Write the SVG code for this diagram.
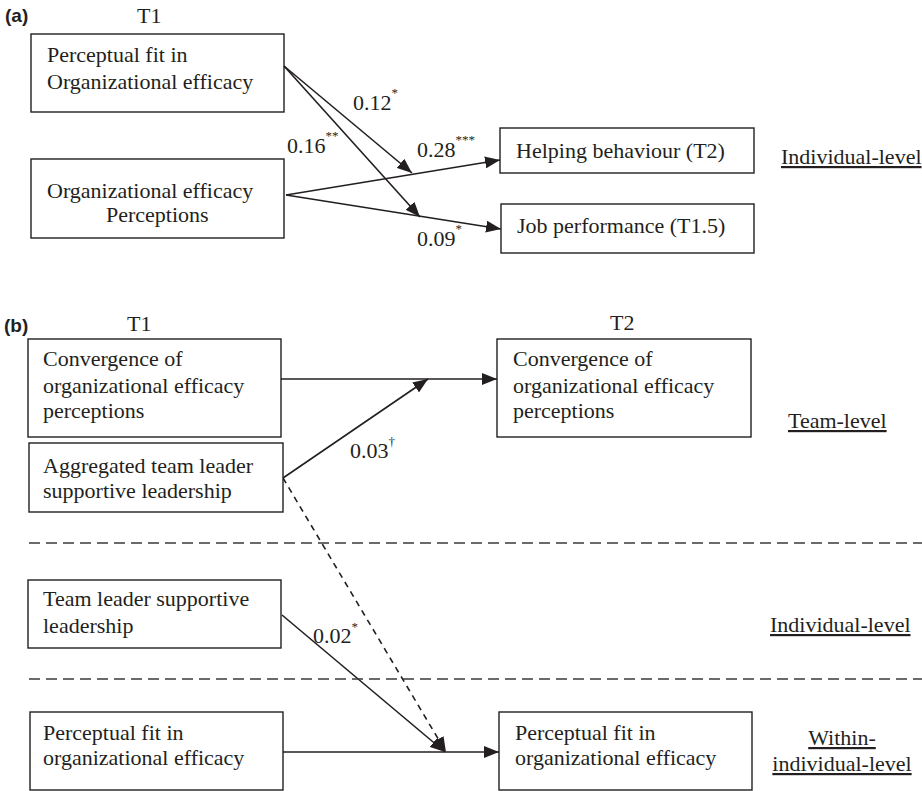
<svg xmlns="http://www.w3.org/2000/svg" width="922" height="791" viewBox="0 0 922 791">
<defs>
<style>
text{font-family:"Liberation Serif","Times New Roman",serif;font-size:22px;fill:#231f20}
.panel{font-family:"Liberation Sans",Arial,sans-serif;font-weight:bold;font-size:19px}
.box{fill:#fff;stroke:#231f20;stroke-width:1.4}
.c{fill:none;stroke:#231f20;stroke-width:1.6}
.dash{fill:none;stroke:#231f20;stroke-width:1.6;stroke-dasharray:6 5}
.sep{fill:none;stroke:#3a3a3a;stroke-width:1.4;stroke-dasharray:11 6}
.sup{font-size:13px}
.u{text-decoration:underline}
</style>
<marker id="ah" markerUnits="userSpaceOnUse" markerWidth="16" markerHeight="12" viewBox="0 0 16 12" refX="15" refY="6" orient="auto">
<path d="M0,0 L15,6 L0,12 Z" fill="#231f20"/>
</marker>
</defs>
<rect width="922" height="791" fill="#fff"/>

<!-- panel a -->
<text class="panel" x="5" y="22">(a)</text>
<text x="137" y="23">T1</text>

<g id="a_fit">
<rect class="box" x="31" y="34" width="253" height="78"/>
<text x="47" y="62">Perceptual fit in</text>
<text x="47" y="89">Organizational efficacy</text>
</g>
<g id="a_oep">
<rect class="box" x="31" y="159" width="253" height="79"/>
<text x="47" y="198">Organizational efficacy</text>
<text x="106" y="222">Perceptions</text>
</g>
<g id="a_help">
<rect class="box" x="500" y="128" width="254" height="45"/>
<text x="516" y="158">Helping behaviour (T2)</text>
</g>
<g id="a_job">
<rect class="box" x="501" y="204" width="253" height="49"/>
<text x="517" y="233">Job performance (T1.5)</text>
</g>
<text class="u" x="781" y="164">Individual-level</text>

<g id="connectors">
<line class="c" x1="284" y1="66" x2="412" y2="173" marker-end="url(#ah)"/>
<line class="c" x1="284" y1="66" x2="420" y2="217" marker-end="url(#ah)"/>
<line class="c" x1="286" y1="195" x2="500" y2="160" marker-end="url(#ah)"/>
<line class="c" x1="286" y1="195" x2="501" y2="229" marker-end="url(#ah)"/>

<line class="c" x1="281" y1="379" x2="497" y2="379" marker-end="url(#ah)"/>
<line class="c" x1="283" y1="478" x2="428" y2="379" marker-end="url(#ah)"/>
<line class="dash" x1="283" y1="478" x2="446" y2="752" marker-end="url(#ah)"/>
<line class="c" x1="282" y1="615" x2="445" y2="752" marker-end="url(#ah)"/>
<line class="c" x1="283" y1="752" x2="499" y2="752" marker-end="url(#ah)"/>
</g>

<text x="353" y="110">0.12<tspan class="sup" dy="-13">*</tspan></text>
<text x="287" y="153">0.16<tspan class="sup" dy="-13">**</tspan></text>
<text x="417" y="157">0.28<tspan class="sup" dy="-13">***</tspan></text>
<text x="417" y="246">0.09<tspan class="sup" dy="-13">*</tspan></text>

<!-- panel b -->
<text class="panel" x="4" y="332">(b)</text>
<text x="127" y="331">T1</text>
<text x="610" y="330">T2</text>

<g id="b_conv1">
<rect class="box" x="28" y="339" width="253" height="98"/>
<text x="43" y="366">Convergence of</text>
<text x="43" y="393">organizational efficacy</text>
<text x="43" y="418">perceptions</text>
</g>
<g id="b_agg">
<rect class="box" x="29" y="443" width="254" height="69"/>
<text x="43" y="473">Aggregated team leader</text>
<text x="43" y="498">supportive leadership</text>
</g>
<g id="b_conv2">
<rect class="box" x="497" y="339" width="254" height="98"/>
<text x="513" y="366">Convergence of</text>
<text x="513" y="393">organizational efficacy</text>
<text x="513" y="418">perceptions</text>
</g>
<text class="u" x="788" y="428">Team-level</text>

<line class="sep" x1="29" y1="543" x2="922" y2="543"/>

<g id="b_tl">
<rect class="box" x="28" y="580" width="253" height="68"/>
<text x="43" y="606">Team leader supportive</text>
<text x="43" y="633">leadership</text>
</g>
<text class="u" x="770" y="632">Individual-level</text>

<line class="sep" x1="29" y1="679" x2="922" y2="679"/>

<g id="b_fit1">
<rect class="box" x="30" y="712" width="253" height="78"/>
<text x="43" y="740">Perceptual fit in</text>
<text x="43" y="765">organizational efficacy</text>
</g>
<g id="b_fit2">
<rect class="box" x="499" y="712" width="253" height="78"/>
<text x="515" y="740">Perceptual fit in</text>
<text x="515" y="765">organizational efficacy</text>
</g>
<text class="u" x="842" y="745" text-anchor="middle">Within-</text>
<text class="u" x="842" y="771" text-anchor="middle">individual-level</text>

<text x="350" y="458">0.03<tspan class="sup" dy="-12">†</tspan></text>
<text x="313" y="643">0.02<tspan class="sup" dy="-12">*</tspan></text>
</svg>
